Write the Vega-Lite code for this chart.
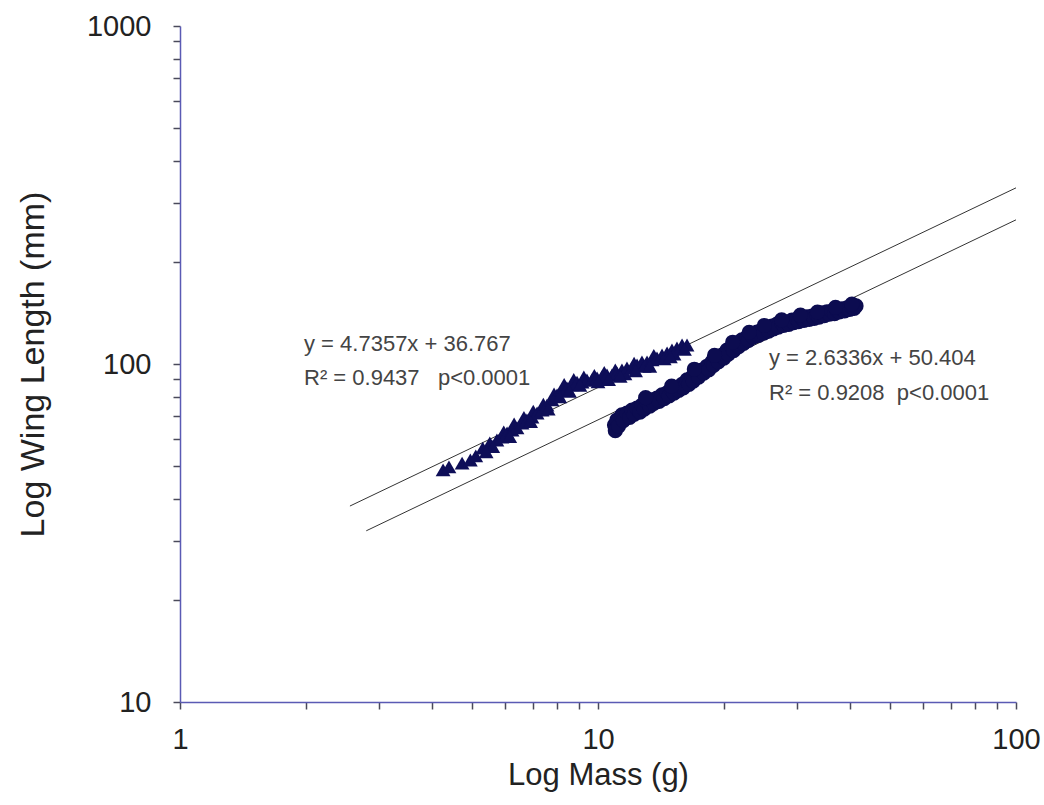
{
  "$schema": "https://vega.github.io/schema/vega-lite/v6.json",
  "width": 836,
  "height": 676,
  "autosize": {"type": "none"},
  "padding": {"left": 180, "top": 26, "right": 28, "bottom": 103},
  "background": "white",
  "config": {
    "view": {"stroke": null},
    "font": "Liberation Sans",
    "axis": {
      "grid": false,
      "domainColor": "#5a5ab4",
      "domainWidth": 1.5,
      "tickColor": "#4a4a5a",
      "tickWidth": 1.5,
      "tickSize": 7,
      "labelFont": "Liberation Sans",
      "labelFontSize": 29,
      "labelColor": "#222222",
      "titleFont": "Liberation Sans",
      "titleFontSize": 31,
      "titleFontWeight": "normal",
      "titleColor": "#222222",
      "labelOverlap": false,
      "labelBound": false,
      "labelFlush": false
    }
  },
  "datasets": {
    "fits": [
      {"fit": "A", "mass": 2.55, "wing": 38.0},
      {"fit": "A", "mass": 100, "wing": 332},
      {"fit": "B", "mass": 2.79, "wing": 32.1},
      {"fit": "B", "mass": 100, "wing": 267}
    ],
    "triangles": [
      {"mass": 4.26, "wing": 48.6}, {"mass": 4.40, "wing": 49.6}, {"mass": 4.73, "wing": 50.9}, {"mass": 4.95, "wing": 52.0},
      {"mass": 5.10, "wing": 53.5}, {"mass": 5.30, "wing": 56.4}, {"mass": 5.51, "wing": 58.4}, {"mass": 5.60, "wing": 57.0},
      {"mass": 5.73, "wing": 59.6}, {"mass": 5.89, "wing": 60.8}, {"mass": 5.95, "wing": 63.0}, {"mass": 6.06, "wing": 62.5},
      {"mass": 6.23, "wing": 63.8}, {"mass": 6.30, "wing": 66.5}, {"mass": 6.40, "wing": 64.7}, {"mass": 6.58, "wing": 66.9},
      {"mass": 6.65, "wing": 69.5}, {"mass": 6.76, "wing": 68.3}, {"mass": 6.95, "wing": 69.7}, {"mass": 7.00, "wing": 72.5},
      {"mass": 7.15, "wing": 71.6}, {"mass": 7.35, "wing": 73.1}, {"mass": 7.40, "wing": 76.0}, {"mass": 7.55, "wing": 75.6},
      {"mass": 7.76, "wing": 78.3}, {"mass": 7.85, "wing": 81.5}, {"mass": 7.98, "wing": 81.0}, {"mass": 8.20, "wing": 83.8},
      {"mass": 8.30, "wing": 87.0}, {"mass": 8.43, "wing": 84.9}, {"mass": 8.67, "wing": 86.7}, {"mass": 8.75, "wing": 90.0},
      {"mass": 8.91, "wing": 88.4}, {"mass": 9.16, "wing": 88.4}, {"mass": 9.25, "wing": 91.5}, {"mass": 9.41, "wing": 89.7},
      {"mass": 9.67, "wing": 89.7}, {"mass": 9.80, "wing": 92.5}, {"mass": 9.95, "wing": 91.0}, {"mass": 10.22, "wing": 91.5},
      {"mass": 10.35, "wing": 94.5}, {"mass": 10.51, "wing": 92.8}, {"mass": 10.80, "wing": 92.8}, {"mass": 11.00, "wing": 96.0},
      {"mass": 11.10, "wing": 94.1}, {"mass": 11.41, "wing": 96.0}, {"mass": 11.60, "wing": 93.5}, {"mass": 11.73, "wing": 97.3},
      {"mass": 12.06, "wing": 97.3}, {"mass": 12.20, "wing": 100.5}, {"mass": 12.40, "wing": 99.3}, {"mass": 12.74, "wing": 101.4},
      {"mass": 12.90, "wing": 98.5}, {"mass": 13.10, "wing": 101.4}, {"mass": 13.47, "wing": 102.8}, {"mass": 13.60, "wing": 106.0},
      {"mass": 13.84, "wing": 104.2}, {"mass": 14.23, "wing": 106.3}, {"mass": 14.40, "wing": 103.5}, {"mass": 14.63, "wing": 107.8},
      {"mass": 15.03, "wing": 110.0}, {"mass": 15.20, "wing": 107.0}, {"mass": 15.45, "wing": 111.5}, {"mass": 15.89, "wing": 113.8},
      {"mass": 16.33, "wing": 113.8}, {"mass": 16.10, "wing": 110.5}, {"mass": 5.40, "wing": 55.0}, {"mass": 6.15, "wing": 61.0},
      {"mass": 6.90, "wing": 67.5}, {"mass": 7.60, "wing": 73.5}, {"mass": 8.10, "wing": 80.0}, {"mass": 8.55, "wing": 83.0},
      {"mass": 9.05, "wing": 86.5}, {"mass": 10.0, "wing": 88.5}, {"mass": 10.6, "wing": 90.0}, {"mass": 11.3, "wing": 92.0},
      {"mass": 12.3, "wing": 95.5}, {"mass": 13.3, "wing": 98.5}, {"mass": 14.9, "wing": 105.0}
    ],
    "circles": [
      {"mass": 10.95, "wing": 66.0}, {"mass": 11.0, "wing": 63.5}, {"mass": 11.10, "wing": 68.3}, {"mass": 11.2, "wing": 65.5},
      {"mass": 11.41, "wing": 70.7}, {"mass": 11.5, "wing": 68.0}, {"mass": 11.73, "wing": 71.6}, {"mass": 11.9, "wing": 69.5},
      {"mass": 12.06, "wing": 73.1}, {"mass": 12.2, "wing": 71.0}, {"mass": 12.40, "wing": 74.1}, {"mass": 12.6, "wing": 72.0},
      {"mass": 12.74, "wing": 75.6}, {"mass": 12.9, "wing": 73.5}, {"mass": 13.10, "wing": 77.2}, {"mass": 13.3, "wing": 75.0},
      {"mass": 13.47, "wing": 78.3}, {"mass": 13.6, "wing": 76.5}, {"mass": 13.84, "wing": 79.3}, {"mass": 14.0, "wing": 77.5},
      {"mass": 14.23, "wing": 81.0}, {"mass": 14.4, "wing": 79.0}, {"mass": 14.63, "wing": 82.2}, {"mass": 14.8, "wing": 80.5},
      {"mass": 15.03, "wing": 83.8}, {"mass": 15.2, "wing": 82.0}, {"mass": 15.45, "wing": 84.9}, {"mass": 15.6, "wing": 83.5},
      {"mass": 15.89, "wing": 87.0}, {"mass": 16.0, "wing": 85.0}, {"mass": 16.33, "wing": 89.7}, {"mass": 16.5, "wing": 87.0},
      {"mass": 16.79, "wing": 91.5}, {"mass": 16.9, "wing": 89.0}, {"mass": 17.25, "wing": 94.1}, {"mass": 17.4, "wing": 91.5},
      {"mass": 17.74, "wing": 96.0}, {"mass": 17.9, "wing": 94.0}, {"mass": 18.23, "wing": 98.5}, {"mass": 18.4, "wing": 96.0},
      {"mass": 18.74, "wing": 101.4}, {"mass": 18.9, "wing": 99.0}, {"mass": 19.26, "wing": 104.2}, {"mass": 19.4, "wing": 101.5},
      {"mass": 19.80, "wing": 106.3}, {"mass": 20.0, "wing": 104.0}, {"mass": 20.35, "wing": 110.0}, {"mass": 20.5, "wing": 107.0},
      {"mass": 20.92, "wing": 112.2}, {"mass": 21.1, "wing": 109.5}, {"mass": 21.50, "wing": 115.4}, {"mass": 21.7, "wing": 112.5},
      {"mass": 22.10, "wing": 117.8}, {"mass": 22.3, "wing": 115.0}, {"mass": 22.72, "wing": 120.2}, {"mass": 22.9, "wing": 117.5},
      {"mass": 23.35, "wing": 122.5}, {"mass": 23.5, "wing": 120.0}, {"mass": 24.01, "wing": 124.2}, {"mass": 24.2, "wing": 121.5},
      {"mass": 24.68, "wing": 126.1}, {"mass": 24.9, "wing": 123.5}, {"mass": 25.36, "wing": 127.8}, {"mass": 25.6, "wing": 125.0},
      {"mass": 26.07, "wing": 129.5}, {"mass": 26.3, "wing": 127.0}, {"mass": 26.80, "wing": 131.3}, {"mass": 27.0, "wing": 128.5},
      {"mass": 27.55, "wing": 132.2}, {"mass": 27.8, "wing": 130.0}, {"mass": 28.32, "wing": 133.1}, {"mass": 28.6, "wing": 131.0},
      {"mass": 29.11, "wing": 134.9}, {"mass": 29.4, "wing": 132.5}, {"mass": 29.93, "wing": 135.8}, {"mass": 30.2, "wing": 133.5},
      {"mass": 30.76, "wing": 136.8}, {"mass": 31.1, "wing": 134.5}, {"mass": 31.62, "wing": 137.8}, {"mass": 32.0, "wing": 135.5},
      {"mass": 32.51, "wing": 138.7}, {"mass": 32.9, "wing": 136.5}, {"mass": 33.42, "wing": 139.6}, {"mass": 33.8, "wing": 137.5},
      {"mass": 34.35, "wing": 141.6}, {"mass": 34.8, "wing": 139.0}, {"mass": 35.31, "wing": 142.6}, {"mass": 35.8, "wing": 140.5},
      {"mass": 36.30, "wing": 143.5}, {"mass": 36.8, "wing": 141.0}, {"mass": 37.31, "wing": 144.5}, {"mass": 37.8, "wing": 142.5},
      {"mass": 38.36, "wing": 145.5}, {"mass": 38.9, "wing": 143.5}, {"mass": 39.43, "wing": 146.5}, {"mass": 40.0, "wing": 145.0},
      {"mass": 40.53, "wing": 147.5}, {"mass": 41.0, "wing": 146.0}, {"mass": 41.43, "wing": 148.5},
      {"mass": 13.0, "wing": 79.5}, {"mass": 15.0, "wing": 86.0}, {"mass": 17.0, "wing": 96.5}, {"mass": 19.0, "wing": 106.0},
      {"mass": 21.0, "wing": 116.0}, {"mass": 23.0, "wing": 124.0}, {"mass": 25.0, "wing": 130.0}, {"mass": 27.5, "wing": 135.0},
      {"mass": 30.5, "wing": 139.5}, {"mass": 33.5, "wing": 142.5}, {"mass": 37.0, "wing": 147.0}, {"mass": 40.5, "wing": 150.5}
    ],
    "labels": [
      {"mass": 1.98, "wing": 114.6, "text": "y = 4.7357x + 36.767"},
      {"mass": 1.98, "wing": 90.9, "text": "R² = 0.9437\u00a0\u00a0\u00a0p<0.0001"},
      {"mass": 25.65, "wing": 104.2, "text": "y = 2.6336x + 50.404"},
      {"mass": 25.65, "wing": 82.1, "text": "R² = 0.9208\u00a0\u00a0p<0.0001"}
    ]
  },
  "encoding": {
    "x": {
      "field": "mass", "type": "quantitative",
      "scale": {"type": "log", "domain": [1, 100], "nice": false},
      "axis": {
        "title": "Log Mass (g)",
        "values": [1, 2, 3, 4, 5, 6, 7, 8, 9, 10, 20, 30, 40, 50, 60, 70, 80, 90, 100],
        "labelExpr": "datum.value == 1 || datum.value == 10 || datum.value == 100 ? format(datum.value, 'd') : ''",
        "labelPadding": 16,
        "titlePadding": 6
      }
    },
    "y": {
      "field": "wing", "type": "quantitative",
      "scale": {"type": "log", "domain": [10, 1000], "nice": false},
      "axis": {
        "title": "Log Wing Length (mm)",
        "titleFontSize": 34,
        "values": [10, 20, 30, 40, 50, 60, 70, 80, 90, 100, 200, 300, 400, 500, 600, 700, 800, 900, 1000],
        "labelExpr": "datum.value == 10 || datum.value == 100 || datum.value == 1000 ? format(datum.value, 'd') : ''",
        "labelPadding": 22,
        "titlePadding": 36
      }
    }
  },
  "layer": [
    {
      "data": {"name": "fits"},
      "mark": {"type": "line", "color": "#333333", "strokeWidth": 1, "clip": true},
      "encoding": {"detail": {"field": "fit"}}
    },
    {
      "data": {"name": "triangles"},
      "mark": {"type": "point", "shape": "triangle-up", "filled": true, "size": 220, "color": "#0e0e58", "opacity": 1}
    },
    {
      "data": {"name": "circles"},
      "mark": {"type": "point", "shape": "circle", "filled": true, "size": 230, "color": "#0c0c50", "opacity": 1}
    },
    {
      "data": {"name": "labels"},
      "mark": {"type": "text", "align": "left", "baseline": "middle", "font": "Liberation Sans", "fontSize": 22, "color": "#444444"},
      "encoding": {"text": {"field": "text"}}
    }
  ]
}
